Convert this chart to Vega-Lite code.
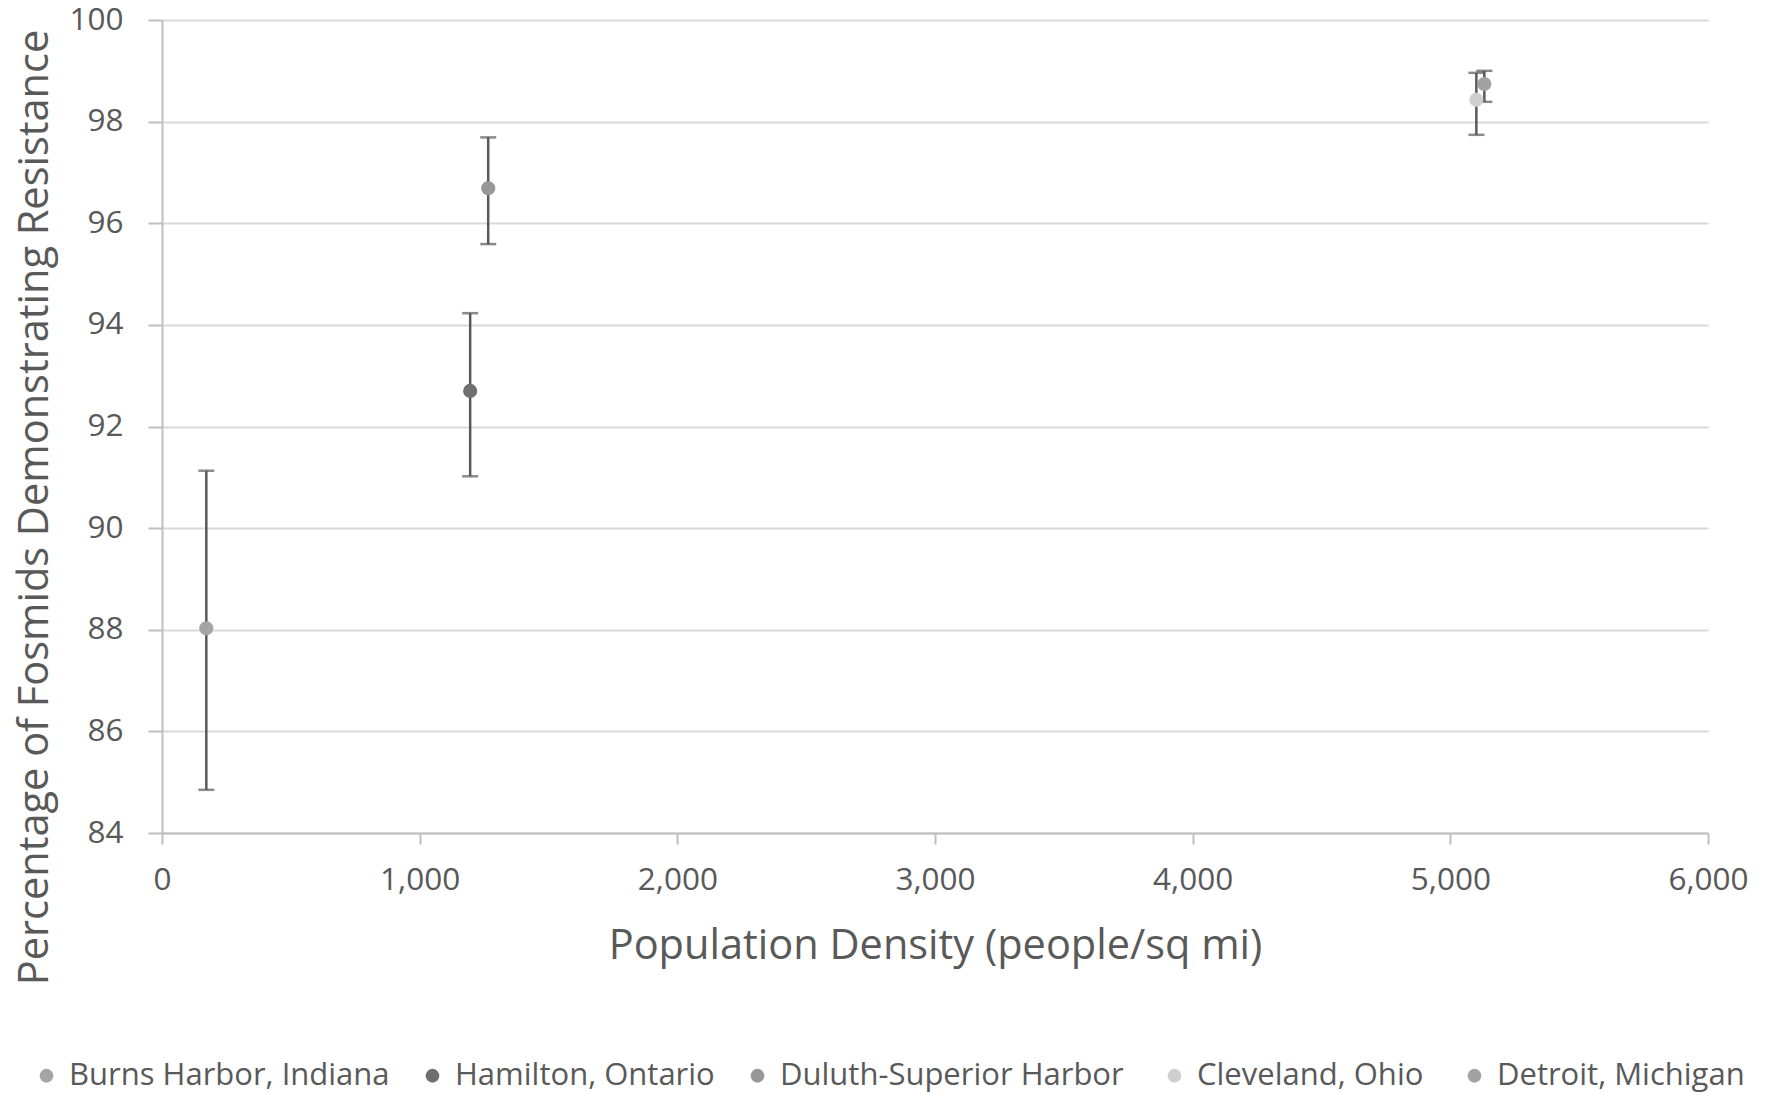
{
  "$schema": "https://vega.github.io/schema/vega-lite/v6.json",
  "autosize": {"type": "none"},
  "padding": {"left": 162, "top": 20, "right": 63, "bottom": 261},
  "width": 1546,
  "height": 813,
  "background": "white",
  "config": {
    "font": "Open Sans",
    "view": {"stroke": null},
    "axis": {
      "labelFont": "Open Sans",
      "titleFont": "Open Sans",
      "labelColor": "#595959",
      "titleColor": "#595959",
      "titleFontWeight": "normal",
      "labelFontSize": 31.5,
      "titleFontSize": 41.5,
      "labelFlush": false,
      "domainColor": "#bfbfbf",
      "domainWidth": 2,
      "tickColor": "#bfbfbf",
      "tickWidth": 2,
      "gridColor": "#d9d9d9",
      "gridWidth": 2
    }
  },
  "data": {
    "values": [
      {"site": "Burns Harbor, Indiana", "density": 172, "pct": 88.03, "lo": 84.85, "hi": 91.13},
      {"site": "Hamilton, Ontario", "density": 1196, "pct": 92.70, "lo": 91.02, "hi": 94.23},
      {"site": "Duluth-Superior  Harbor", "density": 1266, "pct": 96.69, "lo": 95.59, "hi": 97.69},
      {"site": "Cleveland,  Ohio", "density": 5101, "pct": 98.43, "lo": 97.74, "hi": 98.96},
      {"site": "Detroit, Michigan", "density": 5132, "pct": 98.74, "lo": 98.39, "hi": 99.0}
    ]
  },
  "encoding": {
    "x": {
      "field": "density", "type": "quantitative",
      "scale": {"domain": [0, 6000], "nice": false, "zero": false},
      "axis": {
        "title": "Population Density (people/sq mi)",
        "values": [0, 1000, 2000, 3000, 4000, 5000, 6000],
        "format": ",d",
        "grid": false,
        "tickSize": 11,
        "labelPadding": 20,
        "titleY": 125,
        "titleBaseline": "alphabetic"
      }
    }
  },
  "layer": [
    {
      "mark": {"type": "rule", "color": "#595959", "strokeWidth": 2.5},
      "encoding": {
        "y": {
          "field": "lo", "type": "quantitative",
          "scale": {"domain": [84, 100], "nice": false, "zero": false},
          "axis": {
            "title": "Percentage of Fosmids Demonstrating Resistance",
            "values": [84, 86, 88, 90, 92, 94, 96, 98, 100],
            "tickSize": 14,
            "labelPadding": 25,
            "titleX": -115,
            "titleY": 487,
            "titleAlign": "center",
            "titleBaseline": "alphabetic",
            "titleAngle": -90
          }
        },
        "y2": {"field": "hi"}
      }
    },
    {
      "mark": {"type": "tick", "orient": "horizontal", "color": "#595959", "size": 16, "thickness": 2.5},
      "encoding": {"y": {"field": "lo", "type": "quantitative"}}
    },
    {
      "mark": {"type": "tick", "orient": "horizontal", "color": "#595959", "size": 16, "thickness": 2.5},
      "encoding": {"y": {"field": "hi", "type": "quantitative"}}
    },
    {
      "mark": {"type": "point", "shape": "circle", "filled": true, "opacity": 1, "size": 200},
      "encoding": {
        "y": {"field": "pct", "type": "quantitative"},
        "color": {
          "field": "site", "type": "nominal",
          "scale": {
            "domain": ["Burns Harbor, Indiana", "Hamilton, Ontario", "Duluth-Superior  Harbor", "Cleveland,  Ohio", "Detroit, Michigan"],
            "range": ["#a5a5a5", "#6f6f6f", "#979797", "#cfcfcf", "#a2a2a2"]
          },
          "legend": {
            "title": null,
            "orient": "none",
            "direction": "horizontal",
            "columns": 5,
            "legendX": -131,
            "legendY": 1040,
            "labelFont": "Open Sans",
            "labelFontSize": 31,
            "labelColor": "#595959",
            "symbolType": "circle",
            "symbolSize": 190,
            "symbolStrokeWidth": 0,
            "labelOffset": 7,
            "columnPadding": 27,
            "labelLimit": 600
          }
        }
      }
    }
  ]
}
